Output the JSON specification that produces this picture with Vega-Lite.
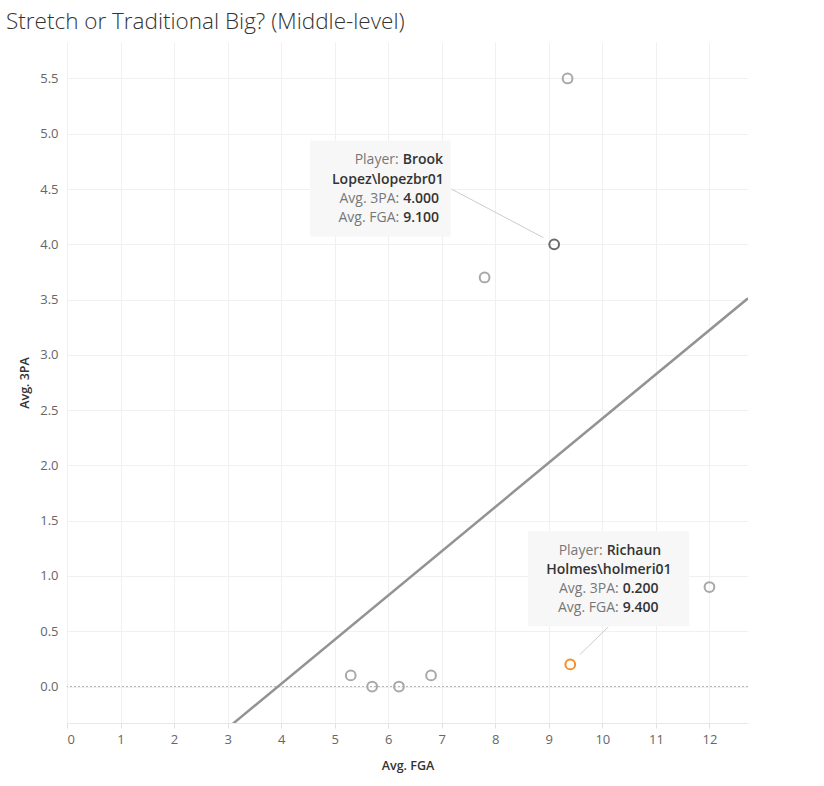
{
  "$schema": "https://vega.github.io/schema/vega-lite/v6.json",
  "autosize": "none",
  "padding": {"left": 67, "top": 42, "right": 76, "bottom": 63},
  "width": 681,
  "height": 681,
  "title": {
    "text": "Stretch or Traditional Big? (Middle-level)",
    "anchor": "start",
    "frame": "group",
    "dx": -61,
    "offset": 9,
    "fontSize": 22.5,
    "fontWeight": 300,
    "font": "Open Sans",
    "color": "#333333"
  },
  "datasets": {
    "players": [
      {"player": "Brook Lopez", "fga": 9.1, "pa3": 4.0, "state": "hover"},
      {"player": "Richaun Holmes", "fga": 9.4, "pa3": 0.2, "state": "selected"},
      {"player": "A", "fga": 9.35, "pa3": 5.5, "state": "normal"},
      {"player": "B", "fga": 7.8, "pa3": 3.7, "state": "normal"},
      {"player": "C", "fga": 12.0, "pa3": 0.9, "state": "normal"},
      {"player": "D", "fga": 5.3, "pa3": 0.1, "state": "normal"},
      {"player": "E", "fga": 5.7, "pa3": 0.0, "state": "normal"},
      {"player": "F", "fga": 6.2, "pa3": 0.0, "state": "normal"},
      {"player": "G", "fga": 6.8, "pa3": 0.1, "state": "normal"}
    ],
    "trend": [
      {"fga": 3.1, "pa3": -0.336},
      {"fga": 12.72, "pa3": 3.512}
    ],
    "boxes": [
      {"x1": 4.54, "x2": 7.17, "y1": 4.94, "y2": 4.07},
      {"x1": 8.61, "x2": 11.62, "y1": 1.404, "y2": 0.545}
    ],
    "connectors": [
      {"id": "brook", "fga": 7.18, "pa3": 4.5},
      {"id": "brook", "fga": 8.9, "pa3": 4.06},
      {"id": "holmes", "fga": 10.11, "pa3": 0.539},
      {"id": "holmes", "fga": 9.58, "pa3": 0.289}
    ],
    "tips": [
      {"x": 6.27, "y": 4.765, "label": "Player:", "value": "Brook"},
      {"x": 4.95, "y": 4.584, "label": "", "value": "Lopez\\lopezbr01"},
      {"x": 6.28, "y": 4.41, "label": "Avg. 3PA:", "value": "4.000"},
      {"x": 6.28, "y": 4.24, "label": "Avg. FGA:", "value": "9.100"},
      {"x": 10.08, "y": 1.23, "label": "Player:", "value": "Richaun"},
      {"x": 8.95, "y": 1.05, "label": "", "value": "Holmes\\holmeri01"},
      {"x": 10.38, "y": 0.886, "label": "Avg. 3PA:", "value": "0.200"},
      {"x": 10.38, "y": 0.714, "label": "Avg. FGA:", "value": "9.400"}
    ]
  },
  "layer": [
    {
      "data": {"values": [{"zero": 0}]},
      "mark": {"type": "rule", "color": "#b5b5b5", "strokeDash": [2, 2], "strokeWidth": 1},
      "encoding": {"y": {"field": "zero", "type": "quantitative"}}
    },
    {
      "data": {"name": "trend"},
      "mark": {"type": "line", "color": "#939393", "strokeWidth": 2.5, "clip": true},
      "encoding": {
        "x": {"field": "fga", "type": "quantitative"},
        "y": {"field": "pa3", "type": "quantitative"}
      }
    },
    {
      "data": {"name": "connectors"},
      "mark": {"type": "line", "color": "#cccccc", "strokeWidth": 1},
      "encoding": {
        "x": {"field": "fga", "type": "quantitative"},
        "y": {"field": "pa3", "type": "quantitative"},
        "detail": {"field": "id"}
      }
    },
    {
      "data": {"name": "players"},
      "mark": {"type": "point", "filled": false, "size": 95, "strokeWidth": 2, "opacity": 1},
      "encoding": {
        "x": {
          "field": "fga",
          "type": "quantitative",
          "title": "Avg. FGA",
          "scale": {"domain": [0, 12.72], "nice": false, "zero": false},
          "axis": {
            "values": [0, 1, 2, 3, 4, 5, 6, 7, 8, 9, 10, 11, 12],
            "format": "d",
            "grid": true,
            "gridColor": "#f0f0f0",
            "domain": true,
            "domainColor": "#e8e8e8",
            "ticks": true,
            "tickColor": "#e0e0e0",
            "tickSize": 5,
            "labelPadding": 5,
            "titlePadding": 13
          }
        },
        "y": {
          "field": "pa3",
          "type": "quantitative",
          "title": "Avg. 3PA",
          "scale": {"domain": [-0.33, 5.83], "nice": false, "zero": false},
          "axis": {
            "values": [0, 0.5, 1, 1.5, 2, 2.5, 3, 3.5, 4, 4.5, 5, 5.5],
            "format": ".1f",
            "grid": true,
            "gridColor": "#f0f0f0",
            "domain": false,
            "ticks": false,
            "labelPadding": 9,
            "titlePadding": 8
          }
        },
        "color": {
          "field": "state",
          "type": "nominal",
          "scale": {"domain": ["normal", "hover", "selected"], "range": ["#a8a8a8", "#6b6b6b", "#f28e2b"]},
          "legend": null
        }
      }
    },
    {
      "data": {"name": "boxes"},
      "mark": {"type": "rect", "color": "#f7f7f7", "opacity": 0.95},
      "encoding": {
        "x": {"field": "x1", "type": "quantitative"},
        "x2": {"field": "x2"},
        "y": {"field": "y1", "type": "quantitative"},
        "y2": {"field": "y2"}
      }
    },
    {
      "data": {"name": "tips"},
      "mark": {"type": "text", "align": "right", "baseline": "middle", "dx": -4, "fontSize": 14, "font": "Open Sans", "color": "#777777"},
      "encoding": {
        "x": {"field": "x", "type": "quantitative"},
        "y": {"field": "y", "type": "quantitative"},
        "text": {"field": "label"}
      }
    },
    {
      "data": {"name": "tips"},
      "mark": {"type": "text", "align": "left", "baseline": "middle", "fontSize": 14, "font": "Open Sans", "fontWeight": 600, "color": "#333333"},
      "encoding": {
        "x": {"field": "x", "type": "quantitative"},
        "y": {"field": "y", "type": "quantitative"},
        "text": {"field": "value"}
      }
    }
  ],
  "config": {
    "view": {"stroke": null},
    "axis": {
      "labelFont": "Open Sans",
      "labelFontSize": 13,
      "labelColor": "#666666",
      "titleFont": "Open Sans",
      "titleFontSize": 12.5,
      "titleFontWeight": 600,
      "titleColor": "#333333"
    }
  }
}
